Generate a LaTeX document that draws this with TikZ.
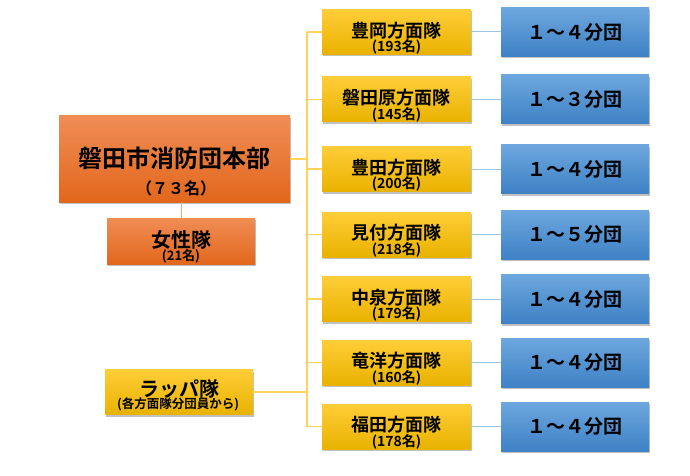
\documentclass[tikz,border=0pt]{standalone}
\usepackage{fontspec}
\setmainfont{Noto Sans CJK JP}[BoldFont={Noto Sans CJK JP Bold}]
\usetikzlibrary{shadows}
\definecolor{orTop}{HTML}{F08D55}
\definecolor{orBot}{HTML}{E2671C}
\definecolor{yeTop}{HTML}{FFCD38}
\definecolor{yeBot}{HTML}{E9B200}
\definecolor{blTop}{HTML}{6DA7DE}
\definecolor{blBot}{HTML}{3E81C5}
\definecolor{yeLine}{HTML}{FFD35A}
\definecolor{blLine}{HTML}{9DC3E6}
\definecolor{orLine}{HTML}{F2A679}
\tikzset{
  boxbase/.style={inner sep=0pt, draw=none,
    drop shadow={shadow xshift=1.2pt, shadow yshift=-2pt, opacity=0.35, fill=black!70}},
  orbox/.style={boxbase, top color=orTop, bottom color=orBot},
  yebox/.style={boxbase, top color=yeTop, bottom color=yeBot, minimum width=149pt, minimum height=45pt},
  blbox/.style={boxbase, top color=blTop, bottom color=blBot, minimum width=148pt, minimum height=49pt,
    font=\bfseries\fontsize{19}{19}\selectfont, text=black},
  ttl/.style={inner sep=0pt, font=\bfseries\fontsize{18}{18}\selectfont},
  sub/.style={inner sep=0pt, font=\bfseries\fontsize{14}{14}\selectfont},
  yeconn/.style={draw=yeLine, line width=1.5pt},
  blconn/.style={draw=blLine, line width=1pt},
  orconn/.style={draw=orLine, line width=1pt},
}
\begin{document}
\begin{tikzpicture}[x=1pt,y=-1pt]
\useasboundingbox (0,0) rectangle (690,476);
% trunk coordinates
\coordinate (ttop) at (307,32);
\coordinate (tbot) at (307,426.5);
% connectors first
\draw[yeconn] (ttop) -- (tbot);
% headquarters
\node[orbox, minimum width=231pt, minimum height=86pt] (hq) at (174.5,159) {};
\node[inner sep=0pt, font=\bfseries\fontsize{24}{24}\selectfont] (hqt) at (174.5,158) {磐田市消防団本部};
\node[inner sep=0pt, font=\bfseries\fontsize{16}{16}\selectfont] (hqs) at (176,188) {（７３名）};
% josei
\node[orbox, minimum width=148pt, minimum height=46pt] (jo) at (181,241) {};
\node[inner sep=0pt, font=\bfseries\fontsize{20}{20}\selectfont] (jot) at (181,240) {女性隊};
\node[inner sep=0pt, font=\bfseries\fontsize{13}{13}\selectfont] (jos) at (181,256.5) {(21名)};
\draw[orconn] (jo.north) -- (jo.north |- hq.south);
% rappa
\node[yebox, minimum width=148pt] (ra) at (179,392) {};
\node[inner sep=0pt, font=\bfseries\fontsize{20}{20}\selectfont] (rat) at (179,388.5) {ラッパ隊};
\node[inner sep=0pt, font=\bfseries\fontsize{12.5}{12.5}\selectfont] (ras) at (178,404.5) {(各方面隊分団員から)};
\draw[yeconn] (ra.east) -- (ra.east -| ttop);
\draw[yeconn] (hq.east) -- (hq.east -| ttop);
% areas
\foreach \n/\y/\t/\s/\b in {a/32/豊岡方面隊/193名/１～４分団,
                           b/99.5/磐田原方面隊/145名/１～３分団,
                           c/169/豊田方面隊/200名/１～４分団,
                           d/234.5/見付方面隊/218名/１～５分団,
                           e/299/中泉方面隊/179名/１～４分団,
                           f/362.5/竜洋方面隊/160名/１～４分団,
                           g/426.5/福田方面隊/178名/１～４分団}{
  \node[yebox] (y\n) at (396.5,\y) {};
  \node[ttl] (y\n t) at (396.5,\y-1.5) {\t};
  \node[sub] (y\n s) at (396.5,\y+15) {(\s)};
  \node[blbox] (b\n) at (575,\y) {\b};
  \draw[yeconn] (y\n.west -| ttop) -- (y\n.west);
  \draw[blconn] (y\n.east) -- (b\n.west);
}
\end{tikzpicture}
\end{document}
